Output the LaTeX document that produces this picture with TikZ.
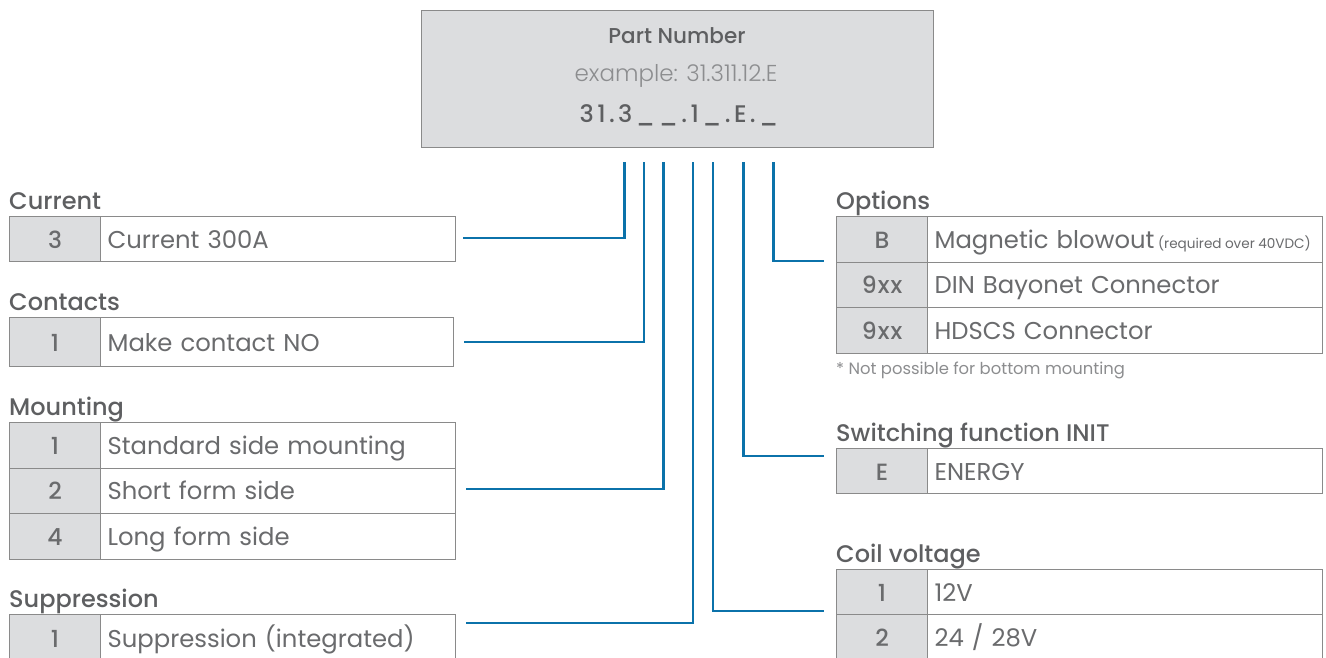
\documentclass[tikz,border=0pt]{standalone}
\usepackage{fontspec}
\setmainfont{Poppins}
\newfontfamily\medfont{Poppins Medium}
\newfontfamily\lightfont{Poppins Light}
\usetikzlibrary{calc}
\definecolor{txt}{HTML}{6A6B6D}
\definecolor{hdr}{HTML}{5E5F61}
\definecolor{light}{HTML}{8C8D8F}
\definecolor{codefill}{HTML}{DCDDDF}
\definecolor{bord}{HTML}{8A8A8A}
\definecolor{conn}{HTML}{0B72AA}
\tikzset{
  cell/.style={draw=bord, line width=1.2pt, anchor=north west, inner sep=0pt,
    text height=18pt, text depth=0pt, text=txt},
  codecell/.style={cell, fill=codefill, minimum width=91pt, minimum height=#1,
    font=\medfont\fontsize{23.5}{27}\selectfont\addfontfeature{LetterSpace=4}},
  desccell/.style={cell, fill=white, minimum height=#1, align=left,
    font=\fontsize{24.3}{28}\selectfont},
  title/.style={anchor=base west, inner sep=0pt, font=\medfont\fontsize{24}{28}\selectfont, text=hdr},
  link/.style={draw=conn, line width=2.4pt, line cap=rect}
}
\newcommand{\smallsp}{\hspace{3.4pt}}
\begin{document}
\begin{tikzpicture}[x=1pt,y=-1pt]
\useasboundingbox (0,0) rectangle (1326,657);
% part number box
\node[draw=bord, fill=codefill, line width=1.2pt, anchor=north west, minimum width=512pt, minimum height=137pt, inner sep=0pt] (pn) at (421,10) {};
\node[text=hdr, font=\medfont\fontsize{21.5}{25}\selectfont] (pnt) at (677,36) {Part Number};
\node[text=light, font=\lightfont\fontsize{23}{27}\selectfont] (pnex) at (676,76) {example: 31.311.12.E};
\node[text=hdr, font=\medfont\fontsize{24}{28}\selectfont\addfontfeature{LetterSpace=14}] (pncode) at (679,115) {31.3\_\,\_.1\_.E.\_};

% ---- left tables ----
% Current
\node[title] (tcur) at (9,209) {Current};
\node[codecell=45pt] (cur1c) at (9,216) {3};
\node[desccell=45pt, minimum width=355pt, text width=355pt] (cur1d) at (100,216) {\hspace*{7pt}Current 300A};
% Contacts
\node[title] (tcon) at (9,310) {Contacts};
\node[codecell=49pt] (con1c) at (9,317) {1};
\node[desccell=49pt, minimum width=353pt, text width=353pt] (con1d) at (100,317) {\hspace*{7pt}Make contact NO};
% Mounting
\node[title] (tmou) at (9,415) {Mounting};
\node[codecell=45.5pt] (mou1c) at (9,422) {1};
\node[desccell=45.5pt, minimum width=355pt, text width=355pt] (mou1d) at (100,422) {\hspace*{7pt}Standard side mounting};
\node[codecell=45.5pt] (mou2c) at (9,467.5) {2};
\node[desccell=45.5pt, minimum width=355pt, text width=355pt] (mou2d) at (100,467.5) {\hspace*{7pt}Short form side};
\node[codecell=45.5pt] (mou4c) at (9,513) {4};
\node[desccell=45.5pt, minimum width=355pt, text width=355pt] (mou4d) at (100,513) {\hspace*{7pt}Long form side};
% Suppression
\node[title] (tsup) at (9,607) {Suppression};
\node[codecell=48pt] (sup1c) at (9,614) {1};
\node[desccell=48pt, minimum width=355pt, text width=355pt] (sup1d) at (100,614) {\hspace*{7pt}Suppression (integrated)};

% ---- right tables ----
\node[title] (topt) at (836,209) {Options};
\node[codecell=45.5pt] (optBc) at (836,216) {B};
\node[desccell=45.5pt, minimum width=395pt, text width=395pt] (optBd) at (927,216) {\hspace*{7pt}Magnetic blowout\hspace{3.5pt}{\fontsize{13.6}{15}\selectfont(required\smallsp over\smallsp 40VDC)}};
\node[codecell=45.5pt] (opt9c) at (836,261.5) {9xx};
\node[desccell=45.5pt, minimum width=395pt, text width=395pt] (opt9d) at (927,261.5) {\hspace*{7pt}DIN Bayonet Connector};
\node[codecell=45.5pt] (opt9bc) at (836,307) {9xx};
\node[desccell=45.5pt, minimum width=395pt, text width=395pt] (opt9bd) at (927,307) {\hspace*{7pt}HDSCS Connector};
\node[anchor=base west, inner sep=0pt, text=light, font=\fontsize{16.4}{19}\selectfont] (note) at (836,374) {* Not possible for bottom mounting};

\node[title] (tsw) at (836,441) {Switching function INIT};
\node[codecell=45pt] (swc) at (836,448) {E};
\node[desccell=45pt, minimum width=395pt, text width=395pt] (swd) at (927,448) {\hspace*{7pt}ENERGY};

\node[title] (tcoil) at (836,562) {Coil voltage};
\node[codecell=45pt] (coil1c) at (836,569) {1};
\node[desccell=45pt, minimum width=395pt, text width=395pt] (coil1d) at (927,569) {\hspace*{7pt}12V};
\node[codecell=46pt] (coil2c) at (836,614) {2};
\node[desccell=46pt, minimum width=395pt, text width=395pt] (coil2d) at (927,614) {\hspace*{7pt}24 / 28V};

% ---- connectors ----
\foreach \n/\x in {a/624.5,b/644,c/663.5,d/693,e/713,f/743.3,g/773.5}
  \coordinate (top\n) at (\x,163);
\coordinate (endA) at (464,238);
\coordinate (endB) at (465,342);
\coordinate (endC) at (467,489);
\coordinate (endD) at (467,622.7);
\coordinate (endE) at (822.7,611);
\coordinate (endF) at (822.7,456);
\coordinate (endG) at (822.7,260.7);
\draw[link] (topa) |- (endA);
\draw[link] (topb) |- (endB);
\draw[link] (topc) |- (endC);
\draw[link] (topd) |- (endD);
\draw[link] (tope) |- (endE);
\draw[link] (topf) |- (endF);
\draw[link] (topg) |- (endG);
\end{tikzpicture}
\end{document}
